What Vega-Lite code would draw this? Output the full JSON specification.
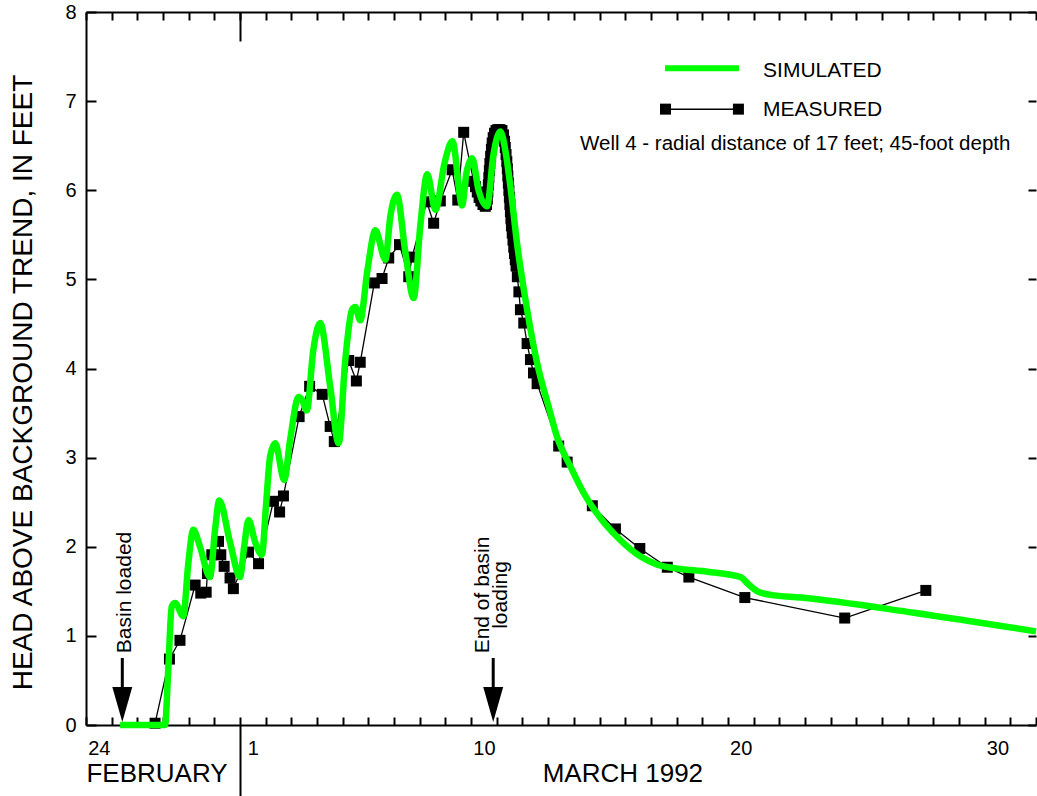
{
  "$schema": "https://vega.github.io/schema/vega-lite/v6.json",
  "width": 950,
  "height": 713,
  "autosize": {"type": "none"},
  "padding": {"left": 86, "top": 12, "right": 1, "bottom": 71},
  "config": {
    "view": {"stroke": null},
    "font": "Liberation Sans",
    "axis": {
      "grid": false, "tickColor": "black", "tickWidth": 2, "domainColor": "black", "domainWidth": 2,
      "labelColor": "black", "titleColor": "black", "labelFont": "Liberation Sans", "titleFont": "Liberation Sans",
      "labelFlush": false, "labelOverlap": false
    }
  },
  "datasets": {
    "measured": [
      {"t": 2.69, "h": 0.02}, {"t": 3.25, "h": 0.74}, {"t": 3.66, "h": 0.95}, {"t": 4.25, "h": 1.57},
      {"t": 4.47, "h": 1.48}, {"t": 4.68, "h": 1.49}, {"t": 4.73, "h": 1.70}, {"t": 4.90, "h": 1.91},
      {"t": 5.16, "h": 2.06}, {"t": 5.25, "h": 1.91}, {"t": 5.38, "h": 1.78}, {"t": 5.61, "h": 1.65},
      {"t": 5.74, "h": 1.53}, {"t": 6.33, "h": 1.94}, {"t": 6.72, "h": 1.81}, {"t": 7.30, "h": 2.51},
      {"t": 7.54, "h": 2.39}, {"t": 7.69, "h": 2.57}, {"t": 8.30, "h": 3.46}, {"t": 8.71, "h": 3.80},
      {"t": 9.20, "h": 3.71}, {"t": 9.51, "h": 3.35}, {"t": 9.67, "h": 3.18}, {"t": 10.23, "h": 4.09},
      {"t": 10.53, "h": 3.86}, {"t": 10.68, "h": 4.07}, {"t": 11.23, "h": 4.96}, {"t": 11.53, "h": 5.01},
      {"t": 11.79, "h": 5.24}, {"t": 12.21, "h": 5.39}, {"t": 12.57, "h": 5.03}, {"t": 12.70, "h": 5.25},
      {"t": 13.27, "h": 5.87}, {"t": 13.54, "h": 5.63}, {"t": 13.80, "h": 5.88}, {"t": 14.26, "h": 6.23},
      {"t": 14.48, "h": 5.89}, {"t": 14.71, "h": 6.65}, {"t": 15.10, "h": 6.10}, {"t": 15.17, "h": 6.04},
      {"t": 15.24, "h": 5.98}, {"t": 15.31, "h": 5.92}, {"t": 15.38, "h": 5.88}, {"t": 15.46, "h": 5.84},
      {"t": 15.55, "h": 5.82}, {"t": 15.60, "h": 5.84}, {"t": 15.63, "h": 5.90}, {"t": 15.65, "h": 5.98},
      {"t": 15.67, "h": 6.06}, {"t": 15.69, "h": 6.14}, {"t": 15.71, "h": 6.22}, {"t": 15.73, "h": 6.30},
      {"t": 15.76, "h": 6.38}, {"t": 15.79, "h": 6.46}, {"t": 15.82, "h": 6.53}, {"t": 15.86, "h": 6.59},
      {"t": 15.91, "h": 6.64}, {"t": 15.97, "h": 6.67}, {"t": 16.04, "h": 6.68}, {"t": 16.12, "h": 6.68},
      {"t": 16.20, "h": 6.67}, {"t": 16.26, "h": 6.62}, {"t": 16.30, "h": 6.55}, {"t": 16.33, "h": 6.48},
      {"t": 16.36, "h": 6.40}, {"t": 16.39, "h": 6.32}, {"t": 16.41, "h": 6.24}, {"t": 16.43, "h": 6.16},
      {"t": 16.45, "h": 6.08}, {"t": 16.47, "h": 6.00}, {"t": 16.49, "h": 5.92}, {"t": 16.51, "h": 5.84},
      {"t": 16.53, "h": 5.76}, {"t": 16.55, "h": 5.68}, {"t": 16.57, "h": 5.60}, {"t": 16.60, "h": 5.52},
      {"t": 16.63, "h": 5.44}, {"t": 16.66, "h": 5.36}, {"t": 16.69, "h": 5.29}, {"t": 16.72, "h": 5.22},
      {"t": 16.75, "h": 5.15}, {"t": 16.80, "h": 5.03}, {"t": 16.86, "h": 4.86}, {"t": 16.92, "h": 4.66},
      {"t": 17.05, "h": 4.51}, {"t": 17.18, "h": 4.28}, {"t": 17.31, "h": 4.10}, {"t": 17.43, "h": 3.95},
      {"t": 17.57, "h": 3.83}, {"t": 18.41, "h": 3.13}, {"t": 18.74, "h": 2.95}, {"t": 19.72, "h": 2.46},
      {"t": 20.62, "h": 2.20}, {"t": 21.57, "h": 1.98}, {"t": 22.64, "h": 1.77}, {"t": 23.48, "h": 1.66},
      {"t": 25.66, "h": 1.43}, {"t": 29.55, "h": 1.20}, {"t": 32.71, "h": 1.51}
    ],
    "simulated": [
      {"t": 1.33, "h": 0.0}, {"t": 3.08, "h": 0.0}, {"t": 3.20, "h": 0.6}, {"t": 3.34, "h": 1.33},
      {"t": 3.47, "h": 1.37}, {"t": 3.79, "h": 1.22}, {"t": 3.98, "h": 1.8}, {"t": 4.18, "h": 2.19},
      {"t": 4.44, "h": 2.0}, {"t": 4.83, "h": 1.66}, {"t": 5.03, "h": 2.2}, {"t": 5.19, "h": 2.52},
      {"t": 5.61, "h": 2.05}, {"t": 6.00, "h": 1.66}, {"t": 6.16, "h": 2.0}, {"t": 6.33, "h": 2.30},
      {"t": 6.59, "h": 2.05}, {"t": 6.85, "h": 1.91}, {"t": 7.02, "h": 2.5}, {"t": 7.17, "h": 3.01},
      {"t": 7.37, "h": 3.16}, {"t": 7.72, "h": 2.75}, {"t": 7.95, "h": 3.2}, {"t": 8.28, "h": 3.68},
      {"t": 8.41, "h": 3.65}, {"t": 8.60, "h": 3.53}, {"t": 8.85, "h": 4.2}, {"t": 9.12, "h": 4.51},
      {"t": 9.51, "h": 3.8}, {"t": 9.84, "h": 3.16}, {"t": 10.10, "h": 4.1}, {"t": 10.36, "h": 4.66},
      {"t": 10.49, "h": 4.69}, {"t": 10.68, "h": 4.54}, {"t": 10.96, "h": 5.1}, {"t": 11.27, "h": 5.55},
      {"t": 11.66, "h": 5.22}, {"t": 11.85, "h": 5.7}, {"t": 12.11, "h": 5.95}, {"t": 12.44, "h": 5.3},
      {"t": 12.76, "h": 4.79}, {"t": 13.02, "h": 5.6}, {"t": 13.29, "h": 6.18}, {"t": 13.61, "h": 5.78},
      {"t": 13.96, "h": 6.3}, {"t": 14.27, "h": 6.55}, {"t": 14.65, "h": 5.83}, {"t": 14.82, "h": 6.2},
      {"t": 15.04, "h": 6.36}, {"t": 15.29, "h": 6.00}, {"t": 15.62, "h": 5.82}, {"t": 15.87, "h": 6.4},
      {"t": 16.14, "h": 6.66}, {"t": 16.33, "h": 6.45}, {"t": 16.53, "h": 6.04}, {"t": 16.79, "h": 5.40},
      {"t": 17.18, "h": 4.66}, {"t": 17.57, "h": 4.06}, {"t": 18.02, "h": 3.57}, {"t": 18.35, "h": 3.23},
      {"t": 18.87, "h": 2.90}, {"t": 19.39, "h": 2.60}, {"t": 20.04, "h": 2.32}, {"t": 20.69, "h": 2.11},
      {"t": 21.60, "h": 1.89}, {"t": 22.25, "h": 1.80}, {"t": 22.90, "h": 1.76}, {"t": 24.20, "h": 1.72},
      {"t": 25.50, "h": 1.66}, {"t": 25.76, "h": 1.59}, {"t": 26.15, "h": 1.50}, {"t": 26.67, "h": 1.46},
      {"t": 27.84, "h": 1.43}, {"t": 32.24, "h": 1.26}, {"t": 37.0, "h": 1.05}
    ],
    "arrows": [
      {"t": 1.414, "top": 0.752, "bottom": 0.38, "head": 0.23},
      {"t": 15.86, "top": 0.752, "bottom": 0.38, "head": 0.23}
    ],
    "notes": [
      {"t": 1.52, "h": 1.487, "label": "Basin loaded"},
      {"t": 15.46, "h": 1.459, "label": "End of basin\nloading"}
    ],
    "months": [
      {"t": 2.765, "h": -0.555, "label": "FEBRUARY"},
      {"t": 20.91, "h": -0.555, "label": "MARCH 1992"}
    ],
    "legendSim": [{"t": 22.55, "h": 7.37}, {"t": 25.43, "h": 7.37}],
    "legendMeas": [{"t": 22.57, "h": 6.91}, {"t": 25.41, "h": 6.91}],
    "legendText": [
      {"t": 26.37, "h": 7.34, "label": "SIMULATED", "size": 21},
      {"t": 26.37, "h": 6.90, "label": "MEASURED", "size": 21},
      {"t": 19.24, "h": 6.52, "label": "Well 4 - radial distance of 17 feet; 45-foot depth", "size": 20.5}
    ]
  },
  "resolve": {"axis": {"x": "independent", "y": "independent"}},
  "layer": [
    {
      "data": {"name": "measured"},
      "mark": {"type": "line", "color": "black", "strokeWidth": 1.3},
      "encoding": {
        "x": {"field": "t", "type": "quantitative", "scale": {"domain": [0, 37], "nice": false, "zero": false},
          "axis": {"orient": "bottom", "values": [0,1,2,3,4,5,6,7,8,9,10,11,12,13,14,15,16,17,18,19,20,21,22,23,24,25,26,27,28,29,30,31,32,33,34,35,36,37],
            "tickSize": -8, "labels": false, "title": null, "domain": true}},
        "y": {"field": "h", "type": "quantitative", "scale": {"domain": [0, 8], "nice": false, "zero": false},
          "axis": {"orient": "left", "values": [0,1,2,3,4,5,6,7,8], "tickSize": -10, "labelPadding": 20, "labelFontSize": 20,
            "format": "d", "title": "HEAD ABOVE BACKGROUND TREND, IN FEET", "titleFontSize": 28, "titleFontWeight": "normal",
            "titlePadding": 27, "titleY": 370, "domain": true}}
      }
    },
    {
      "data": {"name": "measured"},
      "mark": {"type": "point", "shape": "square", "filled": true, "color": "black", "size": 121, "opacity": 1},
      "encoding": {
        "x": {"field": "t", "type": "quantitative", "scale": {"domain": [0, 37], "nice": false, "zero": false},
          "axis": {"orient": "bottom", "values": [0.5, 6.5, 15.5, 25.5, 35.5], "ticks": false, "domain": false, "labelPadding": 13.5,
            "labelFontSize": 20, "labelExpr": "datum.value < 1 ? '24' : format(floor(datum.value) - 5, 'd')", "title": null}},
        "y": {"field": "h", "type": "quantitative", "scale": {"domain": [0, 8], "nice": false, "zero": false},
          "axis": {"orient": "right", "values": [0,1,2,3,4,5,6,7,8], "tickSize": -8, "labels": false, "domain": false, "title": null}}
      }
    },
    {
      "data": {"name": "simulated"},
      "mark": {"type": "line", "color": "#00ff00", "strokeWidth": 6.5, "interpolate": "monotone"},
      "encoding": {
        "x": {"field": "t", "type": "quantitative", "scale": {"domain": [0, 37], "nice": false, "zero": false},
          "axis": {"orient": "top", "values": [0,1,2,3,4,5,6,7,8,9,10,11,12,13,14,15,16,17,18,19,20,21,22,23,24,25,26,27,28,29,30,31,32,33,34,35,36,37],
            "tickSize": -8, "labels": false, "title": null, "domain": true}},
        "y": {"field": "h", "type": "quantitative", "scale": {"domain": [0, 8], "nice": false, "zero": false}, "axis": null}
      }
    },
    {
      "data": {"name": "arrows"},
      "mark": {"type": "rule", "color": "black", "strokeWidth": 3},
      "encoding": {
        "x": {"field": "t", "type": "quantitative", "scale": {"domain": [0, 37], "nice": false, "zero": false},
          "axis": {"orient": "bottom", "values": [6], "tickSize": 71, "labels": false, "domain": false, "title": null}},
        "y": {"field": "top", "type": "quantitative", "scale": {"domain": [0, 8], "nice": false, "zero": false}, "axis": null},
        "y2": {"field": "bottom"}
      }
    },
    {
      "data": {"name": "arrows"},
      "mark": {"type": "point", "shape": "M-0.57,-1L0.57,-1L0,1Z", "filled": true, "color": "black", "size": 1225, "opacity": 1},
      "encoding": {
        "x": {"field": "t", "type": "quantitative", "scale": {"domain": [0, 37], "nice": false, "zero": false},
          "axis": {"orient": "top", "values": [6], "tickSize": -29, "labels": false, "domain": false, "title": null}},
        "y": {"field": "head", "type": "quantitative", "scale": {"domain": [0, 8], "nice": false, "zero": false}, "axis": null}
      }
    },
    {
      "data": {"name": "notes"},
      "mark": {"type": "text", "angle": 270, "fontSize": 21, "lineHeight": 18, "lineBreak": "\n", "align": "center", "baseline": "middle", "color": "black", "font": "Liberation Sans"},
      "encoding": {
        "x": {"field": "t", "type": "quantitative", "axis": null},
        "y": {"field": "h", "type": "quantitative", "axis": null},
        "text": {"field": "label"}
      }
    },
    {
      "data": {"name": "months"},
      "mark": {"type": "text", "fontSize": 26, "align": "center", "baseline": "middle", "color": "black", "font": "Liberation Sans"},
      "encoding": {
        "x": {"field": "t", "type": "quantitative", "axis": null},
        "y": {"field": "h", "type": "quantitative", "axis": null},
        "text": {"field": "label"}
      }
    },
    {
      "data": {"name": "legendSim"},
      "mark": {"type": "line", "color": "#00ff00", "strokeWidth": 6},
      "encoding": {
        "x": {"field": "t", "type": "quantitative", "axis": null},
        "y": {"field": "h", "type": "quantitative", "axis": null}
      }
    },
    {
      "data": {"name": "legendMeas"},
      "mark": {"type": "line", "color": "black", "strokeWidth": 1.5, "point": {"shape": "square", "filled": true, "color": "black", "size": 121, "opacity": 1}},
      "encoding": {
        "x": {"field": "t", "type": "quantitative", "axis": null},
        "y": {"field": "h", "type": "quantitative", "axis": null}
      }
    },
    {
      "data": {"name": "legendText"},
      "mark": {"type": "text", "align": "left", "baseline": "middle", "color": "black", "font": "Liberation Sans"},
      "encoding": {
        "x": {"field": "t", "type": "quantitative", "axis": null},
        "y": {"field": "h", "type": "quantitative", "axis": null},
        "text": {"field": "label"},
        "size": {"field": "size", "type": "quantitative", "scale": null}
      }
    }
  ]
}
